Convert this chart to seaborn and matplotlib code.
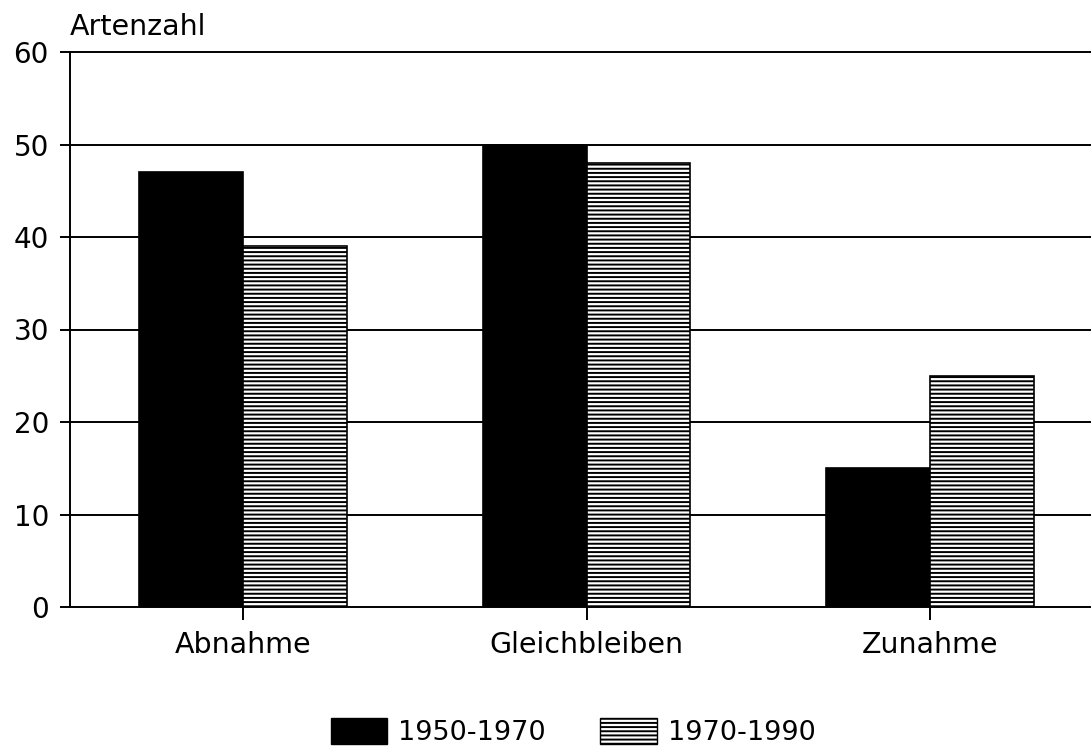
import matplotlib
matplotlib.use("Agg")
import matplotlib.pyplot as plt
import matplotlib.patches as mpatches
import seaborn as sns
import pandas as pd

CATEGORIES = ["Abnahme", "Gleichbleiben", "Zunahme"]
PERIODS = ["1950-1970", "1970-1990"]
VALUES_1950_1970 = [47, 50, 15]
VALUES_1970_1990 = [39, 48, 25]
Y_TICKS = [0, 10, 20, 30, 40, 50, 60]

df = pd.DataFrame({
    "kategorie": CATEGORIES * 2,
    "periode": [PERIODS[0]] * 3 + [PERIODS[1]] * 3,
    "arten": VALUES_1950_1970 + VALUES_1970_1990,
})

sns.set_style("white")
plt.rcParams["font.family"] = ["DejaVu Sans"]
plt.rcParams["hatch.linewidth"] = 1.4
plt.rcParams["hatch.color"] = "black"
plt.rcParams["text.color"] = "black"
plt.rcParams["xtick.color"] = "black"
plt.rcParams["ytick.color"] = "black"

fig = plt.figure(figsize=(10.91, 7.49), dpi=100)
ax = fig.add_axes([70 / 1091, 142 / 749, 1 - 70 / 1091, 555 / 749])

sns.barplot(data=df, x="kategorie", y="arten", hue="periode",
            palette=["black", "white"], width=0.605, saturation=1,
            edgecolor="black", linewidth=1.2, legend=False, ax=ax)

for bar in ax.containers[1]:
    bar.set_facecolor("white")
    bar.set_edgecolor("black")
    bar.set_hatch("----")

ax.set_xlim(-0.504, 2.469)
ax.set_ylim(0, 60)
ax.set_yticks(Y_TICKS)
ax.yaxis.grid(True, color="black", linewidth=1.4)
ax.set_axisbelow(True)
ax.set_xlabel("")
ax.set_ylabel("")

# grid lines at 0 and 60 should not be cut in half by the axes edge
for line in ax.get_ygridlines():
    line.set_clip_on(False)

for side in ["top", "right", "bottom"]:
    ax.spines[side].set_visible(False)
ax.spines["left"].set_linewidth(1.4)
ax.spines["left"].set_color("black")

ax.tick_params(axis="y", direction="out", length=7.2, width=1.4, pad=8,
               labelsize=20, left=True, colors="black")
ax.tick_params(axis="x", direction="out", length=9, width=1.4, pad=8,
               labelsize=20.5, bottom=True, colors="black")

fig.text(70 / 1091, 1 - 35 / 749, "Artenzahl", fontsize=20.5,
         ha="left", va="baseline", color="black")

handles = [
    mpatches.Patch(facecolor="black", edgecolor="black", label=PERIODS[0]),
    mpatches.Patch(facecolor="white", edgecolor="black", hatch="----",
                   label=PERIODS[1]),
]
fig.legend(handles=handles, loc="center", bbox_to_anchor=(573 / 1091, 17 / 749),
           ncol=2, frameon=False, fontsize=19.5, handlelength=2.1,
           handleheight=1.1, handletextpad=0.4, columnspacing=2.0,
           labelcolor="black")

fig.savefig("out.png", dpi=100)
